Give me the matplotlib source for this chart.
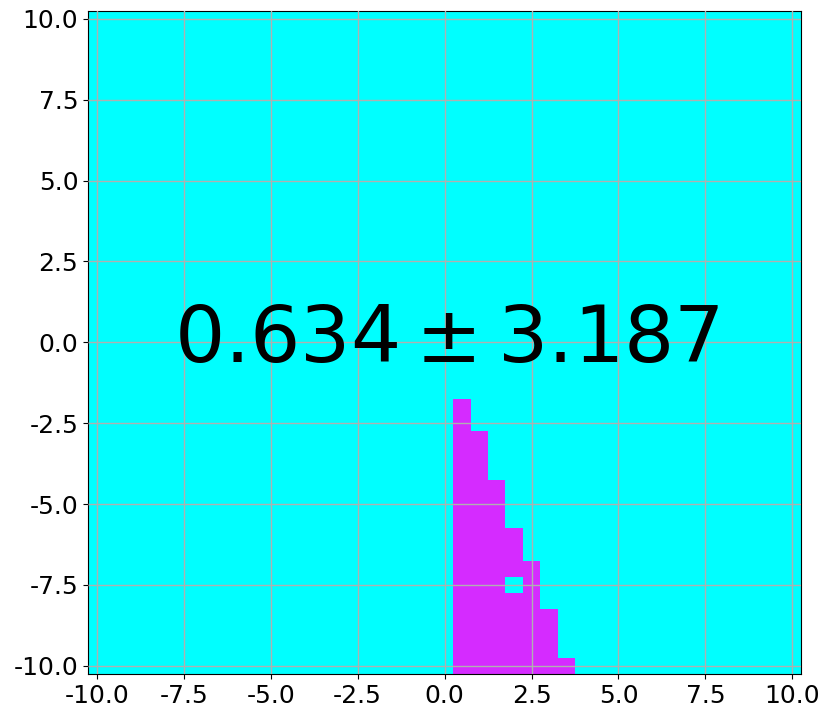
import numpy as np
import matplotlib
matplotlib.use("Agg")
import matplotlib.pyplot as plt
from matplotlib.colors import ListedColormap

# grid cell centres run from -10 to 10 in steps of 0.5
cell_step = 0.5
grid_lo, grid_hi = -10.0, 10.0

# filled columns: x centre and the top filled cell (filled down to the bottom)
col_x = [0.5, 1.0, 1.5, 2.0, 2.5, 3.0, 3.5]
col_top = [-2.0, -3.0, -4.5, -6.0, -7.0, -8.5, -10.0]
# empty cells inside the filled area
holes = [(2.0, -7.5)]

mean_val = 0.634
std_val = 3.187

centres = np.arange(grid_lo, grid_hi + cell_step / 2, cell_step)
n = len(centres)
grid = np.zeros((n, n))
for x, top in zip(col_x, col_top):
    j = int(round((x - grid_lo) / cell_step))
    for i, y in enumerate(centres):
        if y <= top + 1e-9:
            grid[i, j] = 1
for x, y in holes:
    j = int(round((x - grid_lo) / cell_step))
    i = int(round((y - grid_lo) / cell_step))
    grid[i, j] = 0

cmap = ListedColormap(["#00ffff", "#d52bff"])

fig = plt.figure(figsize=(8.31, 7.2), dpi=100)
ax = fig.add_axes([0.106, 0.064, 0.858, 0.921])
half = cell_step / 2
ax.imshow(grid, origin="lower", cmap=cmap, vmin=0, vmax=1,
          extent=[grid_lo - half, grid_hi + half, grid_lo - half, grid_hi + half],
          aspect="auto", interpolation="nearest")
ticks = np.arange(-10, 10.1, 2.5)
ax.set_xticks(ticks)
ax.set_yticks(ticks)
ax.set_xticklabels([f"{t:.1f}" for t in ticks])
ax.set_yticklabels([f"{t:.1f}" for t in ticks])
ax.tick_params(labelsize=18)
ax.grid(True, color="#b0b0b0", linewidth=1)
ax.set_axisbelow(False)
ax.text(0.06, 0.07, f"${mean_val:.3f} \\pm {std_val:.3f}$", fontsize=57,
        ha="center", va="center")

fig.savefig("out.png", dpi=100)
